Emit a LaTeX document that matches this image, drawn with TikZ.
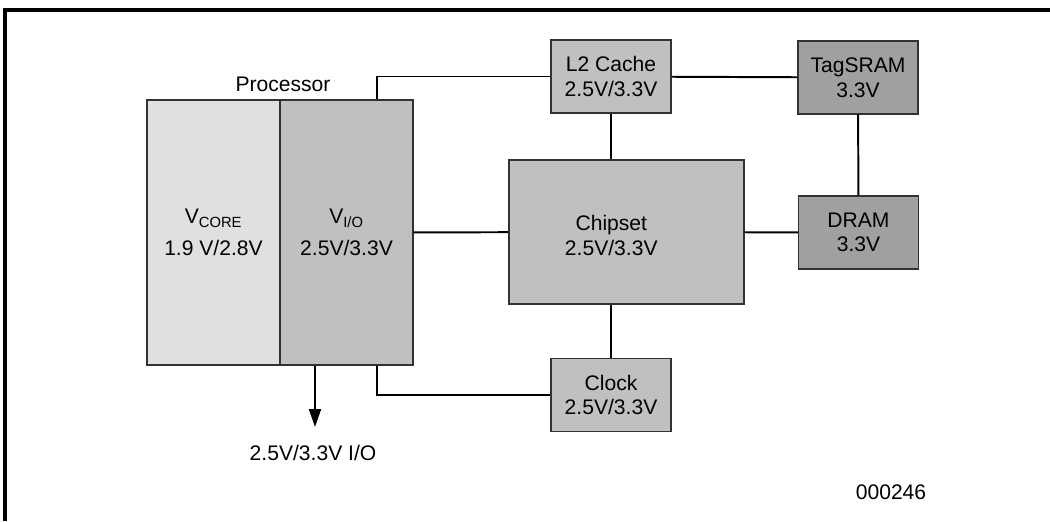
\documentclass[tikz,border=0pt]{standalone}
\usepackage{fontspec}
\setmainfont{Liberation Sans}
\usetikzlibrary{arrows.meta}
\definecolor{boxlight}{RGB}{224, 224, 224}
\definecolor{boxmid}{RGB}{192, 192, 192}
\definecolor{boxdark}{RGB}{160, 160, 160}
\definecolor{boxedge}{RGB}{50, 50, 50}

\tikzset{
  chip/.style={draw=boxedge, line width=1pt, rectangle, align=center,
    minimum width=3cm, minimum height=1.825cm, inner sep=0pt,
    font=\fontsize{15}{17.5}\selectfont},
  tag/.style={font=\fontsize{15}{17.5}\selectfont, align=center},
  wire/.style={line width=1.4pt},
}

\begin{document}
\begin{tikzpicture}[x=0.025cm, y=-0.025cm]
    \useasboundingbox (0,0) rectangle (1050,521);
    \draw[line width=2.2pt] (5,521) -- (5,10) -- (1050,10);

    \node[chip, fill=boxlight, minimum width=3.325cm, minimum height=6.625cm] (vcore) at (213.5,232.5)
        {V\textsubscript{CORE}\\[5pt]1.9 V/2.8V};
    \node[chip, fill=boxmid, minimum width=3.325cm, minimum height=6.625cm] (vio) at (346.5,232.5)
        {V\textsubscript{I/O}\\[5pt]2.5V/3.3V};
    \node[tag] (proc) at (283,84) {Processor};

    \node[chip, fill=boxmid] (l2) at (611,76.5) {L2 Cache\\2.5V/3.3V};
    \node[chip, fill=boxdark] (tagsram) at (858,77.5) {TagSRAM\\3.3V};
    \node[chip, fill=boxmid, minimum width=5.875cm, minimum height=3.6cm,
        label={[tag, xshift=-0.38cm, yshift=-0.08cm]center:{Chipset\\2.5V/3.3V}}] (chipset) at (626.5,232) {};
    \node[chip, fill=boxdark] (dram) at (858.5,232.5) {DRAM\\3.3V};
    \node[chip, fill=boxmid] (clock) at (611,395) {Clock\\2.5V/3.3V};

    \coordinate (tapio) at (377,0);
    \coordinate (ioout) at (315,427);
    \node[tag] (iolabel) at (313,453) {2.5V/3.3V I/O};
    \node[tag] (fignum) at (891,492) {000246};

    \draw[wire] (vio.north -| tapio) |- (l2.west);
    \draw[wire] (vio.south -| tapio) |- (clock.west);
    \draw[wire] (l2) -- (tagsram);
    \draw[wire] (l2) -- (l2 |- chipset.north);
    \draw[wire] (tagsram) -- (dram);
    \draw[wire] (vio) -- (chipset);
    \draw[wire] (chipset) -- (dram);
    \draw[wire] (chipset.south -| clock) -- (clock);
    \draw[wire, -{Triangle[length=0.45cm, width=0.3cm]}] (vio.south -| ioout) -- (ioout);
\end{tikzpicture}
\end{document}
